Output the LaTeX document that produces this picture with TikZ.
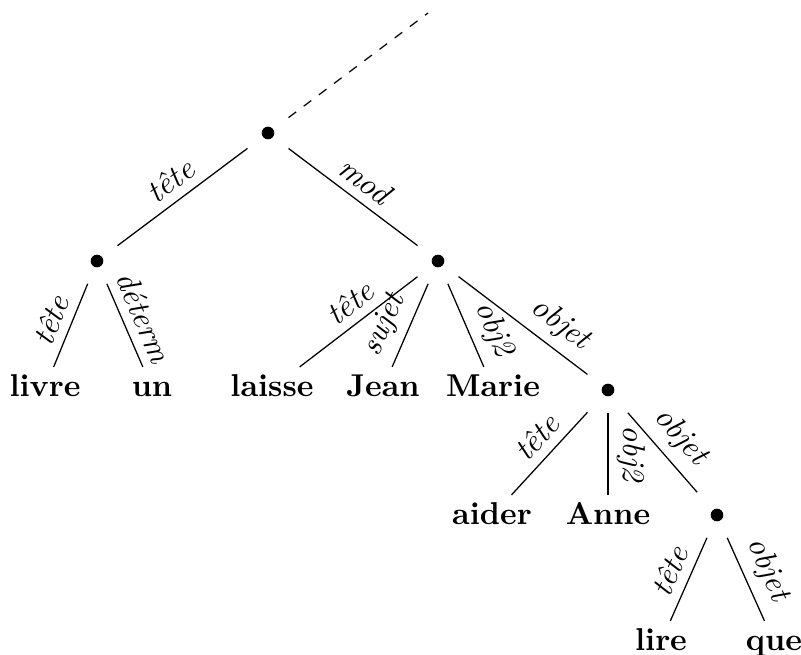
\documentclass[tikz,border=0pt]{standalone}
\tikzset{
  mot/.style={font=\bfseries, inner sep=2pt, text height=7pt, text depth=2pt, anchor=base},
  bul/.style={inner sep=0pt, minimum width=12.6pt, minimum height=14pt,
    path picture={\fill (path picture bounding box.center) circle (2pt);}},
  lab/.style={font=\itshape, sloped, above, inner sep=2.8pt}
}
\begin{document}
\begin{tikzpicture}[x=0.3165pt,y=-0.3165pt]
\useasboundingbox (0,0) rectangle (801,654);
% points de la structure
\node[bul] (top) at (268,133) {};
\node[bul] (np) at (97,261) {};
\node[bul] (vp) at (438,261) {};
\node[bul] (inf1) at (608,390) {};
\node[bul] (inf2) at (717,515) {};
\coordinate (haut) at (428,13);
% mots
\node[mot] (livre) at (45,396) {livre};
\node[mot] (un) at (152,396) {un};
\node[mot] (laisse) at (272,396) {laisse};
\node[mot] (jean) at (383,396) {Jean};
\node[mot] (marie) at (493,396) {Marie};
\node[mot] (aider) at (492,524) {aider};
\node[mot] (anne) at (608,524) {Anne};
\node[mot] (lire) at (661,650) {lire};
\node[mot] (que) at (774,650) {que};
% branches
\draw[dashed] (top) -- (haut);
\foreach \a/\b/\t/\p in {top/np/tête/.5, top/vp/mod/.5, np/livre/tête/.53, np/un/déterm/.5,
  vp/laisse/tête/.47, vp/jean/sujet/.61, vp/marie/obj2/.66, vp/inf1/objet/.68,
  inf1/aider/tête/.47, inf1/anne/obj2/.5, inf1/inf2/objet/.5,
  inf2/lire/tête/.5, inf2/que/objet/.5}{
\draw (\a) -- node[lab, pos=\p]{\t} (\b);
}
\end{tikzpicture}
\end{document}
